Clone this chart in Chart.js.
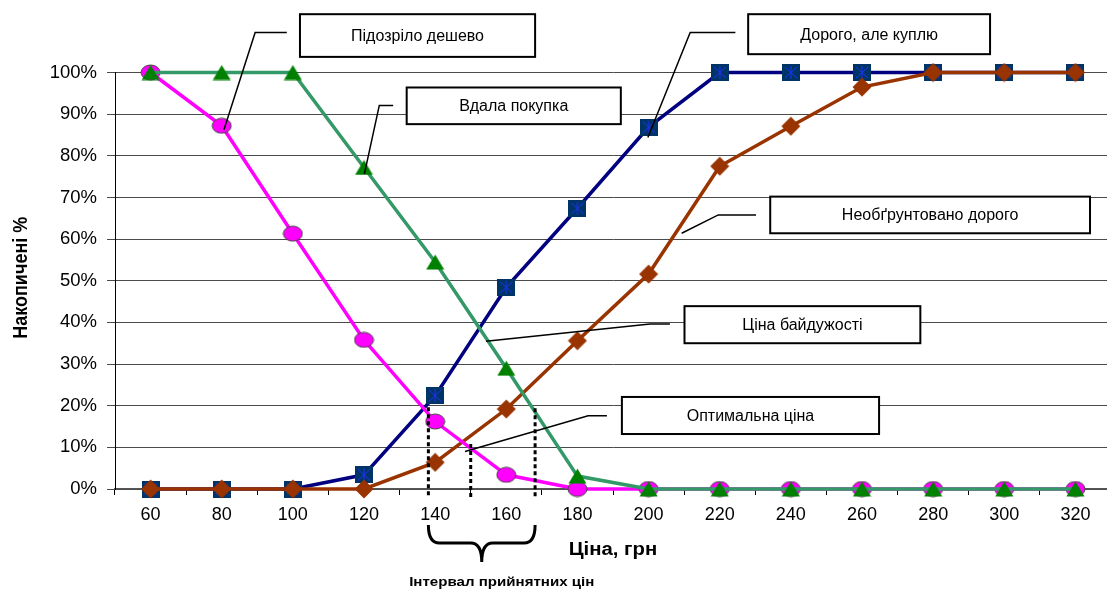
<!DOCTYPE html>
<html>
<head>
<meta charset="utf-8">
<script src="https://cdn.jsdelivr.net/npm/chart.js@4/dist/chart.umd.min.js"></script>
<style>
  html, body { margin: 0; padding: 0; background: #fff; overflow: hidden; }
  #wrap { width: 1111px; height: 589px; }
</style>
</head>
<body>
<div id="wrap"><canvas id="c" width="1111" height="589"></canvas></div>
<script>
// Price points, грн
const prices = [60, 80, 100, 120, 140, 160, 180, 200, 220, 240, 260, 280, 300, 320];
// Cumulative share of respondents, %
const suspiciouslyCheap = [100, 87.2, 61.3, 35.8, 16.2, 3.4, 0, 0, 0, 0, 0, 0, 0, 0];
const goodBuy          = [100, 100, 100, 77.2, 54.5, 29, 3.1, 0, 0, 0, 0, 0, 0, 0];
const expensiveButBuy  = [0, 0, 0, 3.4, 22.4, 48.4, 67.4, 86.9, 100, 100, 100, 100, 100, 100];
const unjustifiedHigh  = [0, 0, 0, 0, 6.4, 19.2, 35.6, 51.6, 77.5, 87.1, 96.5, 100, 100, 100];
const yTickLabels = [0, 10, 20, 30, 40, 50, 60, 70, 80, 90, 100];

// Series names (shown in callout boxes)
const names = {
  cheap: 'Підозріло дешево',
  good: 'Вдала покупка',
  expensive: 'Дорого, але куплю',
  tooHigh: 'Необґрунтовано дорого',
  indifference: 'Ціна байдужості',
  optimal: 'Оптимальна ціна'
};

// Callouts: box corners and leader path, in (price, %) coordinates
const callouts = [
  { text: names.cheap,        box: [102.0, 114.0, 168.1, 103.75], path: [[80.6, 86.2], [89.4, 109.6], [98.3, 109.6]] },
  { text: names.good,         box: [132.0, 96.4, 192.2, 87.6],    path: [[120.1, 75.6], [124.3, 92.1], [128.2, 92.1]] },
  { text: names.expensive,    box: [228.0, 114.0, 296.0, 104.4], path: [[199.8, 84.4], [211.7, 109.6], [224.4, 109.6]] },
  { text: names.tooHigh,      box: [234.2, 70.2, 324.1, 61.4],   path: [[209.3, 61.4], [219.6, 65.8], [230.2, 65.8]] },
  { text: names.indifference, box: [210.1, 43.9, 276.4, 35.0],   path: [[154.3, 35.5], [200.4, 39.6], [206.0, 39.6]] },
  { text: names.optimal,      box: [192.5, 22.1, 264.8, 13.2],   path: [[148.4, 9.0], [183.0, 17.6], [188.3, 17.6]] }
];
// Dotted guides: price and the % where each starts
const guides = [[138.1, 19.6], [150.0, 10.8], [168.1, 19.4]];
const rangeFrom = 138.1, rangeTo = 168.1;

// ---- marker images ----
function makeCanvas(w, h, draw) {
  const c = document.createElement('canvas');
  c.width = w; c.height = h;
  draw(c.getContext('2d'));
  return c;
}
const ellipseImg = makeCanvas(21, 17, g => {
  g.beginPath(); g.ellipse(10.5, 8.5, 9.5, 7.5, 0, 0, Math.PI * 2);
  g.fillStyle = '#ff00ff'; g.fill();
  g.lineWidth = 1; g.strokeStyle = '#444'; g.stroke();
});
const triangleImg = makeCanvas(19, 16, g => {
  g.beginPath(); g.moveTo(9.5, 0.5); g.lineTo(18.5, 15.5); g.lineTo(0.5, 15.5); g.closePath();
  g.fillStyle = '#008000'; g.fill();
});
const squareImg = makeCanvas(18, 17, g => {
  g.fillStyle = '#003366'; g.fillRect(0, 0, 18, 17);
  g.strokeStyle = '#2233ff'; g.lineWidth = 1;
  g.beginPath();
  g.moveTo(9, 2); g.lineTo(9, 15);
  g.moveTo(3, 3); g.lineTo(15, 14);
  g.moveTo(15, 3); g.lineTo(3, 14);
  g.stroke();
});
const diamondImg = makeCanvas(20, 20, g => {
  g.beginPath(); g.moveTo(10, 0.5); g.lineTo(19.5, 10); g.lineTo(10, 19.5); g.lineTo(0.5, 10); g.closePath();
  g.fillStyle = '#993300'; g.fill();
});

const FONT = '"Liberation Sans", Arial, sans-serif';

function stretchedText(ctx, text, x, y, font, sx, rot) {
  ctx.save();
  ctx.translate(x, y);
  if (rot) ctx.rotate(rot);
  if (rot) ctx.scale(1, sx); else ctx.scale(sx, 1);
  ctx.font = font;
  ctx.fillStyle = '#000';
  ctx.textAlign = 'center';
  ctx.textBaseline = 'middle';
  ctx.fillText(text, 0, 0);
  ctx.restore();
}

const overlay = {
  id: 'overlay',
  afterDraw(chart) {
    const ctx = chart.ctx;
    const xs = chart.scales.x, ys = chart.scales.y;
    const area = chart.chartArea;
    const xp = p => xs.getPixelForValue((p - prices[0]) / (prices[1] - prices[0]));
    const yp = v => ys.getPixelForValue(v);

    // dotted guides
    ctx.save();
    ctx.strokeStyle = '#000';
    ctx.lineWidth = 3;
    ctx.setLineDash([4, 3]);
    guides.forEach(([p, v]) => {
      ctx.beginPath();
      ctx.moveTo(xp(p), yp(v));
      ctx.lineTo(xp(p), area.bottom + 9);
      ctx.stroke();
    });
    ctx.restore();

    // leaders and boxes
    callouts.forEach(c => {
      ctx.save();
      ctx.strokeStyle = '#000';
      ctx.lineWidth = 1.5;
      ctx.beginPath();
      c.path.forEach(([p, v], i) => {
        if (i === 0) ctx.moveTo(xp(p), yp(v)); else ctx.lineTo(xp(p), yp(v));
      });
      ctx.stroke();
      const x1 = xp(c.box[0]), y1 = yp(c.box[1]), x2 = xp(c.box[2]), y2 = yp(c.box[3]);
      ctx.fillStyle = '#fff';
      ctx.fillRect(x1, y1, x2 - x1, y2 - y1);
      ctx.lineWidth = 2;
      ctx.strokeRect(x1, y1, x2 - x1, y2 - y1);
      ctx.font = '16px ' + FONT;
      ctx.fillStyle = '#000';
      ctx.textAlign = 'center';
      ctx.textBaseline = 'middle';
      ctx.fillText(c.text, (x1 + x2) / 2, (y1 + y2) / 2 + 1);
      ctx.restore();
    });

    // curly brace under the acceptable range
    const bl = xp(rangeFrom), br = xp(rangeTo), bm = (bl + br) / 2;
    const top = area.bottom + 36, mid = area.bottom + 54, tip = area.bottom + 73, r = 11;
    ctx.save();
    ctx.strokeStyle = '#000';
    ctx.lineWidth = 3;
    ctx.beginPath();
    ctx.moveTo(bl, top);
    ctx.quadraticCurveTo(bl, mid, bl + r, mid);
    ctx.lineTo(bm - r, mid);
    ctx.quadraticCurveTo(bm, mid, bm, tip);
    ctx.moveTo(br, top);
    ctx.quadraticCurveTo(br, mid, br - r, mid);
    ctx.lineTo(bm + r, mid);
    ctx.quadraticCurveTo(bm, mid, bm, tip);
    ctx.stroke();
    ctx.restore();

    // axis titles
    stretchedText(ctx, 'Ціна, грн', (area.left + area.right) / 2, area.bottom + 61, 'bold 18px ' + FONT, 1.13);
    stretchedText(ctx, 'Інтервал прийнятних цін', bm + 20, area.bottom + 93, 'bold 13px ' + FONT, 1.16);
    stretchedText(ctx, 'Накопичені %', 21, (area.top + area.bottom) / 2 - 3, 'bold 18px ' + FONT, 1.13, -Math.PI / 2);
  }
};

const lineDs = (label, data, color, img, order) => ({
  label, data, order,
  borderColor: color,
  borderWidth: 3.5,
  tension: 0,
  fill: false,
  clip: false,
  pointStyle: img,
  pointRadius: 9,
  pointHoverRadius: 9
});

new Chart(document.getElementById('c'), {
  type: 'line',
  data: {
    labels: prices.map(String),
    datasets: [
      lineDs(names.good, goodBuy, '#339966', triangleImg, 1),
      lineDs(names.cheap, suspiciouslyCheap, '#ff00ff', ellipseImg, 2),
      lineDs(names.tooHigh, unjustifiedHigh, '#993300', diamondImg, 3),
      lineDs(names.expensive, expensiveButBuy, '#000080', squareImg, 4)
    ]
  },
  options: {
    responsive: false,
    animation: false,
    devicePixelRatio: 1,
    layout: { autoPadding: false, padding: { top: 72.5, right: 0, bottom: 0, left: 0 } },
    plugins: { legend: { display: false }, tooltip: { enabled: false } },
    scales: {
      x: {
        type: 'category',
        offset: true,
        afterFit(s) { s.height = 100; },
        grid: { offset: true, drawOnChartArea: false, drawTicks: true, tickLength: 6, color: '#000' },
        border: { color: '#555', width: 1.5 },
        ticks: { color: '#000', font: { family: FONT, size: 18 }, padding: 9, maxRotation: 0, autoSkip: false }
      },
      y: {
        min: 0, max: 100,
        afterFit(s) { s.width = 115; },
        afterBuildTicks(s) { s.ticks = yTickLabels.map(v => ({ value: v })); },
        grid: { color: '#4a4a4a', lineWidth: 1, drawTicks: true, tickLength: 8 },
        border: { color: '#000', width: 1 },
        ticks: { color: '#000', font: { family: FONT, size: 18.5 }, padding: 10, callback: v => v + '%' }
      }
    }
  },
  plugins: [overlay]
});
</script>
</body>
</html>
